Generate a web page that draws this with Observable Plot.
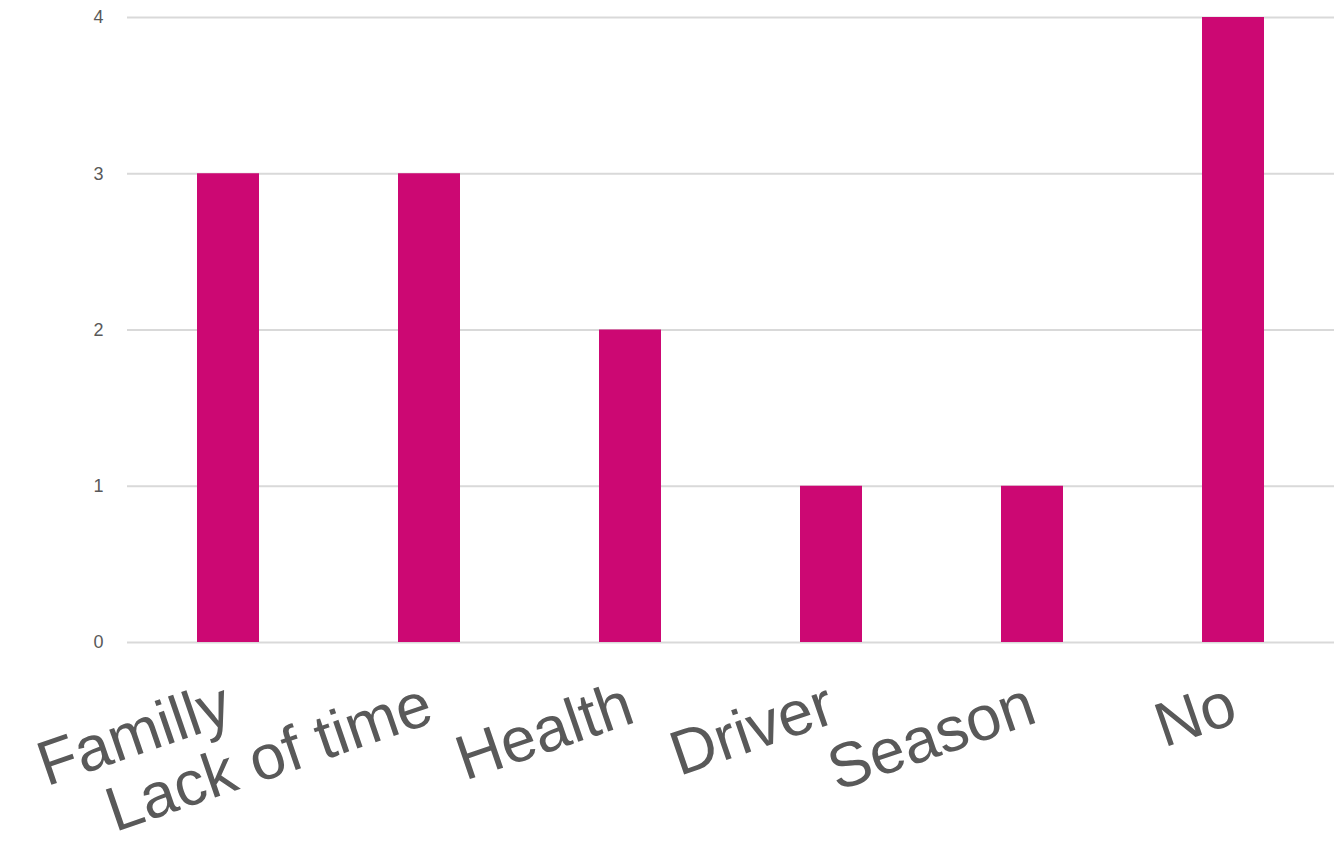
<!DOCTYPE html>
<html>
<head>
<meta charset="utf-8">
<script src="https://cdn.jsdelivr.net/npm/d3@7"></script>
<script src="https://cdn.jsdelivr.net/npm/@observablehq/plot@0.6"></script>
<style>
  html, body { margin: 0; padding: 0; background: #fff; }
  #chart svg { display: block; }
</style>
</head>
<body>
<div id="chart"></div>
<script>
const categories = ["Familly", "Lack of time", "Health", "Driver", "Season", "No"];
const counts = [3, 3, 2, 1, 1, 4];
const yTicks = [0, 1, 2, 3, 4];

const data = categories.map((c, i) => ({category: c, count: counts[i]}));

const chart = Plot.plot({
  width: 1340,
  height: 841,
  marginLeft: 127,
  marginRight: 6,
  marginTop: 17,
  marginBottom: 199,
  style: {fontFamily: "'Liberation Sans', Arial, sans-serif", background: "#fff"},
  x: {domain: categories, paddingInner: 0.69, paddingOuter: 0.345, align: 0.5},
  y: {domain: [0, 4], ticks: yTicks},
  marks: [
    Plot.gridY(yTicks, {stroke: "#d9d9d9", strokeOpacity: 1, strokeWidth: 2}),
    Plot.barY(data, {x: "category", y: "count", fill: "#cc0873"}),
    Plot.axisY(yTicks, {tickSize: 0, tickPadding: 24, fontSize: 18, fill: "#595959", label: null, tickFormat: d => String(d)}),
    Plot.axisX({tickSize: 0, tickRotate: -19, fontSize: 63, fill: "#595959", label: null, tickPadding: 60})
  ]
});
document.getElementById("chart").appendChild(chart);
</script>
</body>
</html>
